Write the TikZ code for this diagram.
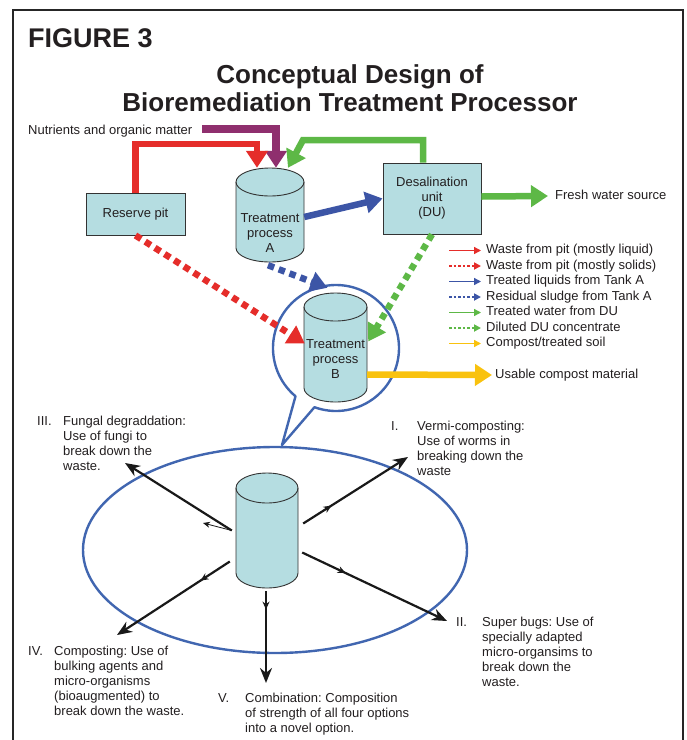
\documentclass[tikz,border=0pt]{standalone}
\usepackage{fontspec}
\setmainfont{Liberation Sans}
\usetikzlibrary{arrows.meta,calc,decorations.markings}
\definecolor{cylfill}{HTML}{B5DDE1}
\definecolor{edgegray}{HTML}{333333}
\definecolor{txt}{HTML}{231F20}
\definecolor{cred}{HTML}{E52D2A}
\definecolor{cpurple}{HTML}{8F2F6E}
\definecolor{cgreen}{HTML}{5DB846}
\definecolor{cblue}{HTML}{3C55A6}
\definecolor{cyellow}{HTML}{F9C20E}
\definecolor{cbubble}{HTML}{4166B0}
\newcommand\cylpath[5]{%
  \filldraw[fill=cylfill,draw=edgegray,line width=0.9pt] (#1-#4,#2) -- (#1-#4,#3)
    arc[start angle=180,end angle=0,x radius=#4,y radius=#5] -- (#1+#4,#2)
    arc[start angle=0,end angle=-180,x radius=#4,y radius=#5] -- cycle;
  \draw[draw=edgegray,line width=0.9pt] (#1-#4,#2) arc[start angle=180,end angle=0,x radius=#4,y radius=#5];
}
\frenchspacing
\begin{document}
\begin{tikzpicture}[x=1pt,y=-1pt,
  every node/.style={text=txt},
  lbl/.style={font=\frenchspacing\fontsize{13}{15}\selectfont, inner sep=0pt},
  one/.style={lbl, anchor=west, text height=9.5pt, text depth=2.7pt},
  multi/.style={lbl, anchor=north west, align=left},
  boxnode/.style={draw=edgegray, line width=0.9pt, fill=cylfill, font=\fontsize{13}{15}\selectfont, align=center, inner sep=0pt},
  cylnode/.style={inner sep=0pt},
  fat/.style={line width=6.5pt, -{Triangle[length=17pt,width=21pt]}},
  fatdots/.style={line width=6.5pt, dash pattern=on 6.5pt off 5pt, -{Triangle[length=17pt,width=20pt]}},
  legline/.style={line width=1.4pt, -{Triangle[length=7pt,width=7pt]}},
  legdots/.style={line width=2.6pt, dash pattern=on 2.6pt off 2pt, -{Triangle[length=7pt,width=7pt]}},
  blk/.style={draw=black!90, line width=2.2pt, -{Stealth[length=15pt,width=12pt]}},
  midarr/.style={postaction={decorate,decoration={markings,mark=at position #1 with {\arrow{Stealth[length=8pt,width=7pt]}}}}},
  bubble/.style={draw=cbubble, line width=2.4pt, line join=round}
]
\useasboundingbox (0,0) rectangle (687,740);
\fill[white] (0,0) rectangle (687,740);
\draw[line width=2.5pt, black!85] (13,745) -- (13,10) -- (683,10) -- (683,745);

% titles
\node[anchor=base west, font=\bfseries\fontsize{27}{30}\selectfont, inner sep=0pt] (fig) at (28,47) {FIGURE 3};
\node[anchor=base, font=\bfseries\fontsize{26}{28}\selectfont, inner sep=0pt] (t1) at (350,83) {Conceptual Design of};
\node[anchor=base, font=\bfseries\fontsize{26}{28}\selectfont, inner sep=0pt] (t2) at (350,111) {Bioremediation Treatment Processor};

% bubble and big ellipse
\coordinate (bc) at (336,348);
\coordinate (btip) at (282,445);
\draw[bubble] (btip) -- ($(bc)+(130:63)$) arc[start angle=130,end angle=470,radius=63] -- cycle;
\draw[cbubble, line width=2.4pt] (275,550) ellipse [x radius=192, y radius=103];

% cylinders
\cylpath{270}{182}{248}{34}{14}
\node[cylnode, minimum width=68pt, minimum height=94pt] (A) at (270,215) {};
\node[lbl, align=center] (Alabel) at (270,233) {Treatment\\process\\A};
\cylpath{335.5}{307}{388}{31.5}{14}
\node[cylnode, minimum width=63pt, minimum height=109pt] (B) at (335.5,347.5) {};
\node[lbl, align=center] (Blabel) at (335.5,359) {Treatment\\process\\B};
\cylpath{267}{488}{573}{31}{15}
\node[cylnode, minimum width=62pt, minimum height=115pt] (C) at (267,530.5) {};

% boxes
\node[boxnode, minimum width=99pt, minimum height=42pt] (rp) at (135.5,214) {Reserve pit};
\node[boxnode, minimum width=98pt, minimum height=71pt] (DU) at (432,198.5) {Desalination\\unit\\(DU)};

% free labels
\node[one] (nut) at (28,131) {Nutrients and organic matter};
\node[one] (fresh) at (555,196) {Fresh water source};
\node[one] (usable) at (495,375) {Usable compost material};

% flows into A
\draw[fat, cpurple, line width=8pt] ([xshift=10pt,yshift=2pt]nut.east) -| ([xshift=6pt]A.north);
\draw[fat, cred] (rp.north) |- ($([xshift=-13pt]A.north)+(0,-24)$) -- ([xshift=-13pt]A.north);
\draw[fat, cgreen] ([xshift=-9pt]DU.north) |- (303,140) -- ([xshift=18pt]A.north);
\draw[fat, cblue] ($(A.east)+(0,2)$) -- (DU.west);
\draw[fat, cgreen] ($(DU.east)+(0,-2)$) -- ([xshift=-7pt]fresh.west);
\draw[fatdots, cblue] ($(A.south)+(-2,3)$) -- ($(B.north)+(-8,-5)$);
\draw[fatdots, cred] (rp.south) -- ($(B.west)+(1,-4)$);
\draw[fatdots, cgreen] (DU.south) -- ($(B.east)+(1,-6)$);
\draw[fat, cyellow] ($(B.east)+(0,27)$) -- ([xshift=-3pt]usable.west);

% legend
\node[one] (lg1) at (486,250.5) {Waste from pit (mostly liquid)};
\node[one] (lg2) at (486,266) {Waste from pit (mostly solids)};
\node[one] (lg3) at (486,281.5) {Treated liquids from Tank A};
\node[one] (lg4) at (486,297) {Residual sludge from Tank A};
\node[one] (lg5) at (486,312.5) {Treated water from DU};
\node[one] (lg6) at (486,328) {Diluted DU concentrate};
\node[one] (lg7) at (486,343.5) {Compost/treated soil};
\draw[legline, cred] ([xshift=-37pt]lg1.west) -- ([xshift=-5pt]lg1.west);
\draw[legdots, cred] ([xshift=-37pt]lg2.west) -- ([xshift=-5pt]lg2.west);
\draw[legline, cblue] ([xshift=-37pt]lg3.west) -- ([xshift=-5pt]lg3.west);
\draw[legdots, cblue] ([xshift=-37pt]lg4.west) -- ([xshift=-5pt]lg4.west);
\draw[legline, cgreen] ([xshift=-37pt]lg5.west) -- ([xshift=-5pt]lg5.west);
\draw[legdots, cgreen] ([xshift=-37pt]lg6.west) -- ([xshift=-5pt]lg6.west);
\draw[legline, cyellow] ([xshift=-37pt]lg7.west) -- ([xshift=-5pt]lg7.west);

% option arrows
\coordinate (tI) at (408,457);
\coordinate (tII) at (447,621);
\coordinate (tIII) at (125,463);
\coordinate (tIV) at (117,635);
\coordinate (tV) at (266,683);
\coordinate (sIII) at (203,523);
\draw[blk, midarr=0.27] ($(C.east)+(5,-7)$) -- (tI);
\draw[blk, midarr=0.3] ($(C.east)+(4,22)$) -- (tII);
\draw[blk] ($(C.west)+(-4,0)$) -- (tIII);
\draw[black!90, line width=0.8pt, -{Stealth[length=7pt,width=6pt]}] ($(C.west)+(-4,0)$) -- (sIII);
\draw[blk, midarr=0.26] ($(C.west)+(-6,31)$) -- (tIV);
\draw[blk, midarr=0.2] ($(C.south)+(-1,3)$) -- (tV);

% option labels
\node[multi] (nI) at (391,421) {I.};
\node[multi] (xI) at (417,421) {Vermi-composting:\\Use of worms in\\breaking down the\\waste};
\node[multi] (nII) at (456,617) {II.};
\node[multi] (xII) at (482,617) {Super bugs: Use of\\specially adapted\\micro-organsims to\\break down the\\waste.};
\node[multi] (nIII) at (37,416) {III.};
\node[multi] (xIII) at (63,416) {Fungal degraddation:\\Use of fungi to\\break down the\\waste.};
\node[multi] (nIV) at (28,646) {IV.};
\node[multi] (xIV) at (54,646) {Composting: Use of\\bulking agents and\\micro-organisms\\(bioaugmented) to\\break down the waste.};
\node[multi] (nV) at (218,693) {V.};
\node[multi] (xV) at (245,693) {Combination: Composition\\of strength of all four options\\into a novel option.};
\end{tikzpicture}
\end{document}
